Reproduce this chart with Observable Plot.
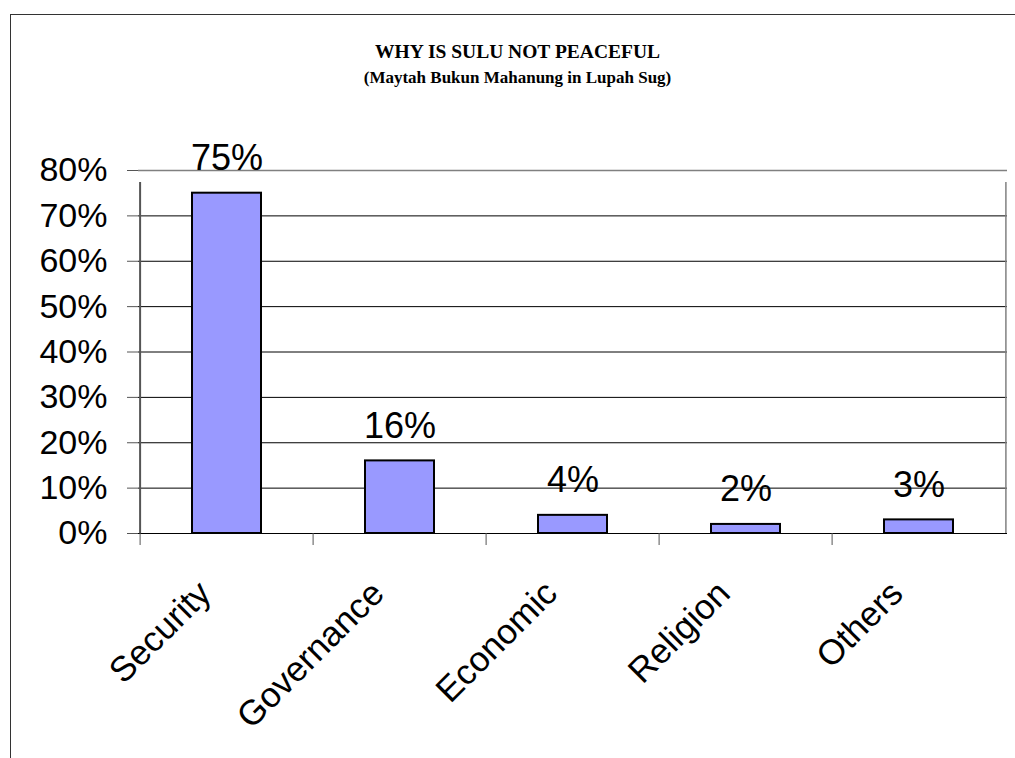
<!DOCTYPE html>
<html>
<head>
<meta charset="utf-8">
<script src="https://cdn.jsdelivr.net/npm/d3@7"></script>
<script src="https://cdn.jsdelivr.net/npm/@observablehq/plot@0.6"></script>
<style>
  html, body { margin: 0; padding: 0; background: #fff; overflow: hidden; }
  #wrap { position: relative; width: 1015px; height: 758px; overflow: hidden; }
  #border { position: absolute; left: 10px; top: 14px; width: 1200px; height: 1000px; border: 1.5px solid #333; box-sizing: border-box; }
  .ttl { position: absolute; left: 0; width: 1035px; text-align: center; font-family: "Liberation Serif", "Times New Roman", serif; font-weight: bold; color: #000; line-height: 1.15; }
  #t1 { top: 41px; font-size: 19.5px; }
  #t2 { top: 68px; font-size: 17px; }
  #chart { position: absolute; left: 0; top: 0; }
</style>
</head>
<body>
<div id="wrap">
  <div id="border"></div>
  <div class="ttl" id="t1">WHY IS SULU NOT PEACEFUL</div>
  <div class="ttl" id="t2">(Maytah Bukun Mahanung in Lupah Sug)</div>
  <div id="chart"></div>
</div>
<script>
const categories = ["Security", "Governance", "Economic", "Religion", "Others"];
const values = [0.75, 0.16, 0.04, 0.02, 0.03];
const yTicks = [0, 0.1, 0.2, 0.3, 0.4, 0.5, 0.6, 0.7, 0.8];

const data = categories.map((c, i) => ({category: c, value: values[i]}));
const W = 1015, H = 758;
const mL = 138, mR = 8, mT = 170, mB = 225;
const step = (W - mL - mR) / categories.length;
const pct = d => Math.round(d * 100) + "%";

const chart = Plot.plot({
  width: W,
  height: H,
  marginLeft: mL,
  marginRight: mR,
  marginTop: mT,
  marginBottom: mB,
  style: {fontFamily: "'Liberation Sans', Arial, sans-serif", background: "transparent", overflow: "visible"},
  x: {domain: categories, paddingInner: 0.6, paddingOuter: 0.3, axis: null},
  y: {domain: [0, 0.8], axis: null},
  marks: [
    Plot.gridY(yTicks.filter(t => t > 0 && t < 0.8), {stroke: "#000", strokeOpacity: 1, strokeWidth: 1}),
    Plot.ruleY([0.8], {stroke: "#808080", strokeWidth: 1.5}),
    Plot.barY(data, {x: "category", y: "value", fill: "#9999FF", stroke: "#000", strokeWidth: 2}),
    Plot.ruleY([0], {stroke: "#000", strokeWidth: 1.2}),
    Plot.axisY({ticks: yTicks, tickFormat: pct, tickSize: 11, tickPadding: 20, fontSize: 34, stroke: "#555", color: "#000", label: null}),
    Plot.axisX({tickSize: 12, tickFormat: () => "", dx: -step / 2, stroke: "#555", label: null}),
    Plot.ruleX([categories[0]], {x: d => d, dx: -step / 2, y1: 0, y2: 0.8, insetBottom: -12, stroke: "#555", strokeWidth: 2}),
    Plot.ruleX([categories[categories.length - 1]], {x: d => d, dx: step / 2, y1: 0, y2: 0.8, insetBottom: -12, stroke: "#808080", strokeWidth: 1.5}),
    Plot.text(data, {x: "category", y: "value", text: d => pct(d.value), dy: -23, lineAnchor: "bottom", fontSize: 36, fill: "#000"}),
    Plot.text(data, {x: "category", y: () => 0, text: "category", rotate: -45, textAnchor: "end", lineAnchor: "bottom", dx: -14, dy: 62, fontSize: 35, fill: "#000"})
  ]
});
document.getElementById("chart").appendChild(chart);
</script>
</body>
</html>
